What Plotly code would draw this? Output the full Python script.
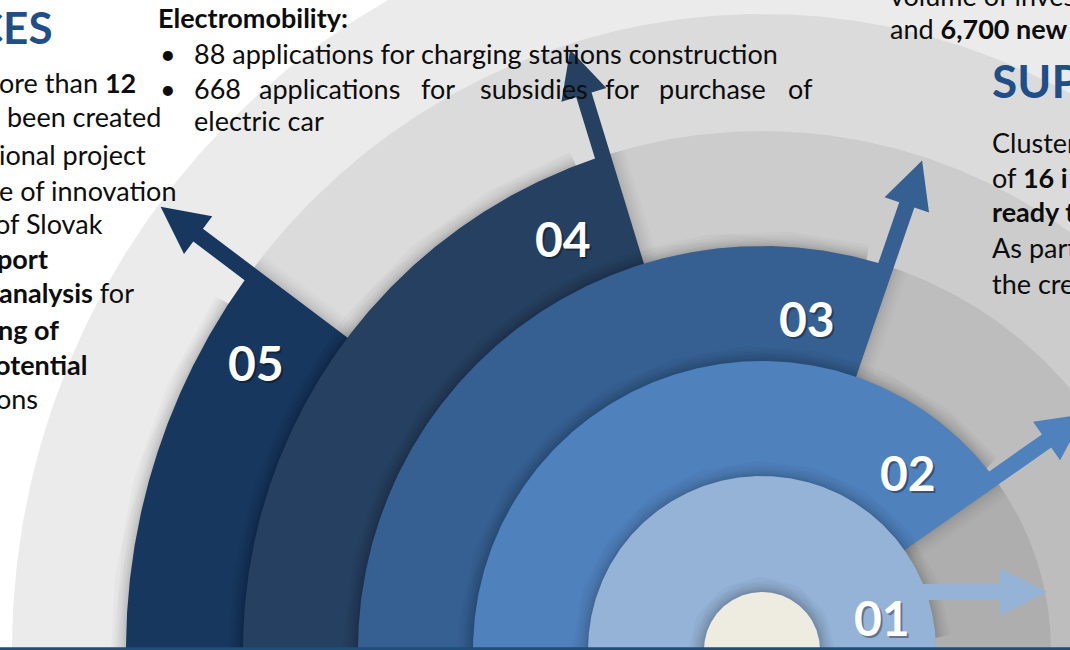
import numpy as np
import plotly.graph_objects as go

# ---------------- data ----------------
step_labels = ["01", "02", "03", "04", "05"]
step_angles = [0, 35, 71, 107, 143]          # direction (deg) in which each step's arrow leaves
step_colors = ["#95B3D7", "#4F81BD", "#366092", "#254061", "#17375E"]

heading_left = "CES"
left_lines = ["ore than <b>12</b>", "been created", "ional project", "e of innovation",
              "of Slovak", "<b>port</b>", "<b>analysis</b> for", "<b>ng of</b>",
              "<b>otential</b>", "ons"]

mid_title = "<b>Electromobility:</b>"
mid_bullet1 = "88 applications for charging stations construction"
mid_bullet2_words = ["668", "applications", "for", "subsidies", "for", "purchase", "of"]
mid_bullet2_cont = "electric car"

right_top_lines = ["volume of inves", "and <b>6,700 new</b>"]
heading_right = "SUP"
right_lines = ["Cluster", "of <b>16 i</b>", "<b>ready t</b>", "As part", "the cre"]

# ---------------- geometry / style ----------------
W, H = 1070, 650
CX, CY = 762, 650                     # centre of the semicircles (pixels)
ring_r = [174, 289, 404, 519, 636]    # outer radius of each step
core_r = 58
gray_r = [750, 636, 519, 404, 289, 174]
gray_c = ["#EBEBEB", "#DBDBDB", "#CCCCCC", "#BDBDBD", "#AEAEAE", "#A6A6A6"]
SHAFT_W, HEAD_W, HEAD_L, HEAD_GAP = 16, 47, 47, 64
arrow_off = [50, 0, 0, 0, 0]          # first arrow is lifted above the base line

FONT = "Lato"
TXT = "#0D0D0D"
BLUE_HEAD = "#1F4E89"
BODY = 27


def px(x):
    return x - CX


def py(y):
    return CY - y


def arc(r, a0, a1, n=200):
    t = np.radians(np.linspace(a0, a1, n))
    return list(r * np.cos(t)), list(r * np.sin(t))


def step_shape(R, theta, off):
    th = np.radians(theta)
    u = np.array([np.cos(th), np.sin(th)])
    nrm = np.array([-np.sin(th), np.cos(th)])
    xs, ys = [0.0], [0.0]
    a1 = theta + np.degrees(np.arcsin(off / R))
    ax, ay = arc(R, theta, a1, 30)
    xs += ax; ys += ay
    Rb = R + HEAD_GAP
    pts = [
        Rb * u + off * nrm,
        Rb * u + (off + SHAFT_W / 2 - HEAD_W / 2) * nrm,
        (Rb + HEAD_L) * u + (off + SHAFT_W / 2) * nrm,
        Rb * u + (off + SHAFT_W / 2 + HEAD_W / 2) * nrm,
        Rb * u + (off + SHAFT_W) * nrm,
    ]
    t2 = np.sqrt(R ** 2 - (off + SHAFT_W) ** 2)
    pts.append(t2 * u + (off + SHAFT_W) * nrm)
    for p in pts:
        xs.append(p[0]); ys.append(p[1])
    a2 = theta + np.degrees(np.arcsin((off + SHAFT_W) / R))
    ax, ay = arc(R, a2, 180, 300)
    xs += ax; ys += ay
    xs.append(0.0); ys.append(0.0)
    return xs, ys


def ring_only(R, theta):
    ax, ay = arc(R, theta, 180, 300)
    return ax, ay


def poly(xs, ys, fill):
    return go.Scatter(x=xs, y=ys, mode="lines", fill="toself", fillcolor=fill,
                      line=dict(width=0, color=fill),
                      hoverinfo="skip", showlegend=False)


def shadow(xs, ys, strength=1.0):
    out = []
    for w in [30, 24, 19, 15, 11, 8, 5, 3]:
        out.append(go.Scatter(x=xs, y=ys, mode="lines", fill="none",
                              line=dict(width=w, color=f"rgba(0,0,0,{0.022 * strength:.3f})"),
                              hoverinfo="skip", showlegend=False))
    return out


traces = []
# gray background semicircles
for r, c in zip(gray_r, gray_c):
    ax, ay = arc(r, 0, 180, 400)
    traces.append(poly([r] + ax + [-r], [0] + ay + [0], c))

# coloured steps, largest first
for i in reversed(range(len(step_labels))):
    xs, ys = step_shape(ring_r[i], step_angles[i], arrow_off[i])
    sx, sy = ring_only(ring_r[i], step_angles[i] + 4)
    traces += shadow(sx, sy)
    th = np.radians(step_angles[i])
    if i > 0:
        traces += shadow([0, ring_r[i] * np.cos(th)], [0, ring_r[i] * np.sin(th)], 0.7)
    traces.append(poly(xs, ys, step_colors[i]))

# core
ax, ay = arc(core_r, 0, 180, 200)
traces += shadow(ax, ay, 1.2)
traces.append(poly([core_r] + ax + [-core_r], [0] + ay + [0], "#EEECE1"))

fig = go.Figure(traces)

ann = []


def text(x, y, s, size=BODY, color=TXT, anchor="left", bold=False, dx=0, dy=0):
    ann.append(dict(x=x / W, y=1 - y / H, xref="paper", yref="paper",
                    text=(f"<b>{s}</b>" if bold else s),
                    showarrow=False, xanchor=anchor, yanchor="middle", xshift=dx, yshift=dy,
                    font=dict(family=FONT, size=size, color=color)))


# left block
text(55, 27, heading_left, size=44, color=BLUE_HEAD, anchor="right", bold=True)
left_x = [-3, 5, -3, -3, -7, -5, -3, -4, -7, -6]
left_y = [82, 117, 154, 190, 223, 258, 292, 329, 364, 398]
for s, x, y in zip(left_lines, left_x, left_y):
    text(x, y, s)

# middle block
text(156, 17, mid_title)
text(158, 53, "•")
text(158, 88, "•")
text(192, 53, mid_bullet1)
word_x = [192, 257, 419, 478, 603, 657, 786]
for wd, x in zip(mid_bullet2_words, word_x):
    text(x, 88, wd)
text(192, 121, mid_bullet2_cont)

# right block
text(888, -5, right_top_lines[0])
text(888, 29, right_top_lines[1])
text(990, 80, heading_right, size=46, color=BLUE_HEAD, bold=True)
right_y = [143, 177, 212, 247, 283]
for s, y in zip(right_lines, right_y):
    text(990, y, s)

# step numbers (with a soft drop shadow)
label_pos = [(882, 617), (908, 473), (807, 318), (563, 238), (256, 362)]
for lab, (x, y) in zip(step_labels, label_pos):
    text(x, y, lab, size=48, color="rgba(0,0,0,0.35)", anchor="center", bold=True, dx=2, dy=-2)
    text(x, y, lab, size=48, color="white", anchor="center", bold=True)

fig.update_layout(
    width=W, height=H, margin=dict(l=0, r=0, t=0, b=0),
    paper_bgcolor="white", plot_bgcolor="white",
    xaxis=dict(range=[px(0), px(W)], visible=False, fixedrange=True),
    yaxis=dict(range=[py(H), py(0)], visible=False, fixedrange=True),
    annotations=ann,
    shapes=[dict(type="line", xref="paper", yref="paper", x0=0, x1=1, y0=0.002, y1=0.002,
                 line=dict(color="#1F4E79", width=3))],
    showlegend=False,
)

fig.write_html("out.html", config={"displayModeBar": False},
               post_script="document.body.style.margin='0';document.body.style.overflow='hidden';")
